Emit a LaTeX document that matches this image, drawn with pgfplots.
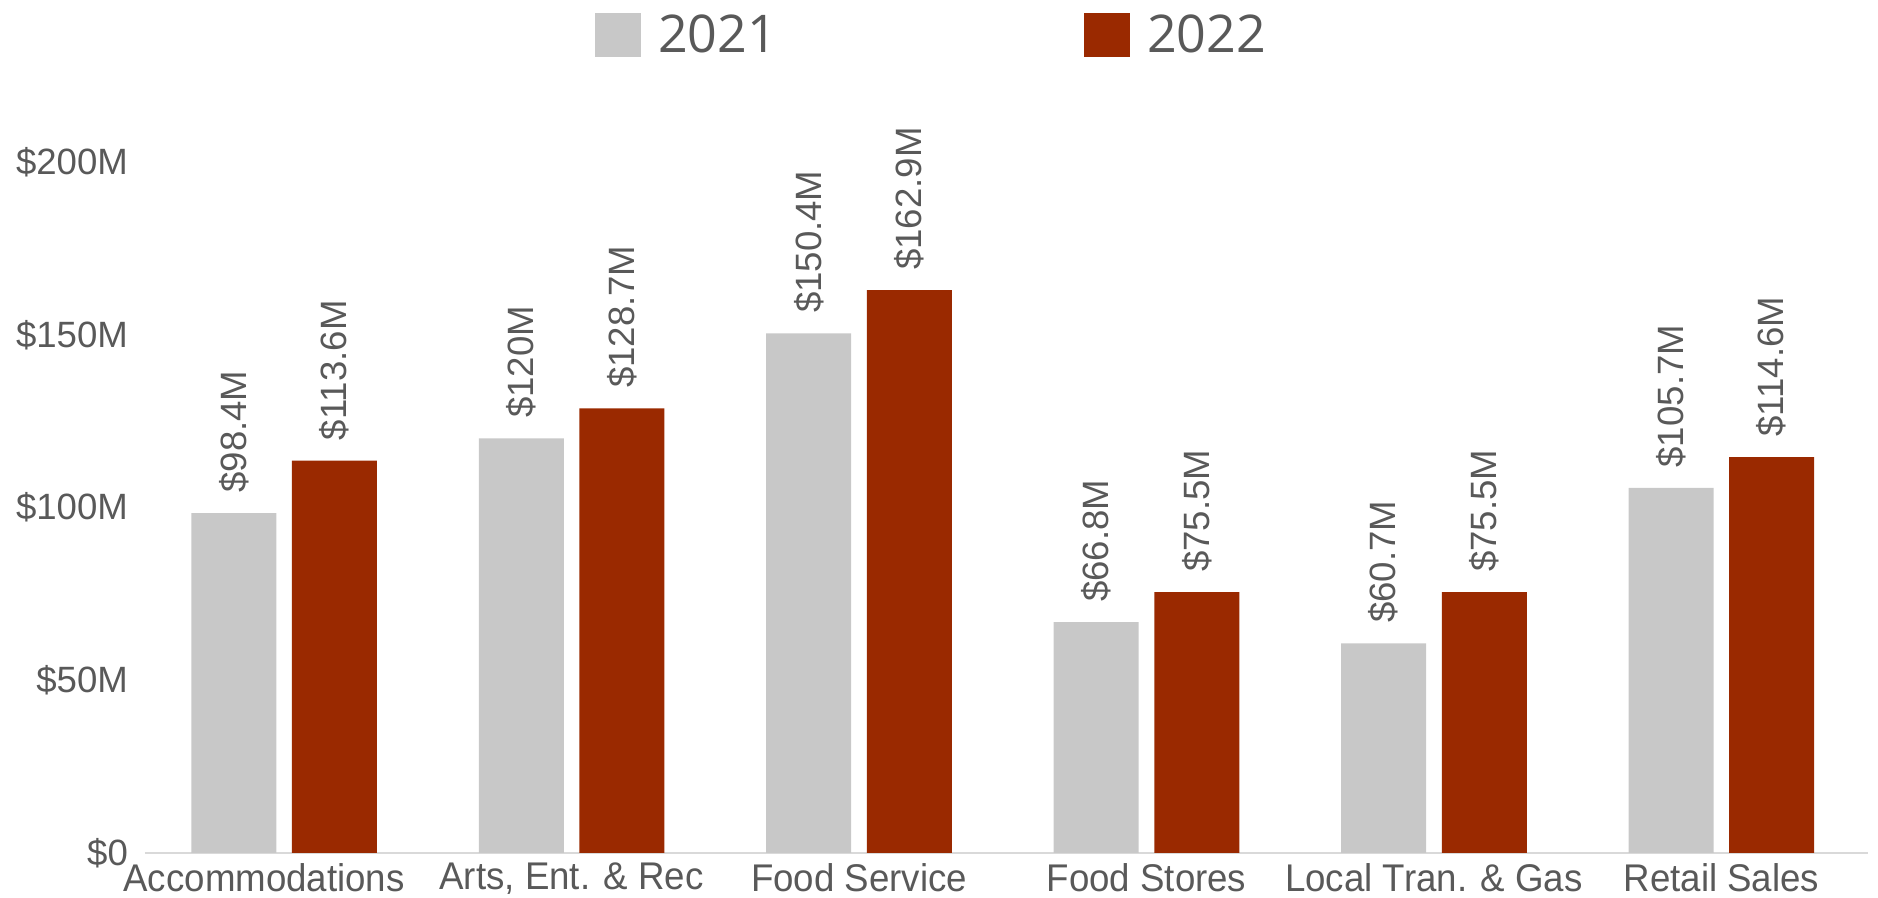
\documentclass[border=0pt]{standalone}
\usepackage{pgfplots}
\pgfplotsset{compat=1.18}
\usepackage{fontspec}
\setmainfont{Liberation Sans}
\newfontfamily\legfont{Open Sans}
\newfontfamily\catfont[FakeStretch=0.95]{Liberation Sans}
\definecolor{cgray}{RGB}{200,200,200}
\definecolor{cred}{RGB}{154,41,0}
\definecolor{ctext}{RGB}{89,89,89}
\definecolor{caxis}{RGB}{217,217,217}
\begin{document}
\begin{tikzpicture}
\begin{axis}[
  scale only axis, width=861.5pt, height=345.5pt,
  xmin=-0.484, xmax=5.51, ymin=0, ymax=200,
  axis x line*=bottom, axis y line*=left,
  x axis line style={draw=caxis, line width=1pt, -},
  y axis line style={draw=none},
  major tick length=0pt,
  xtick={0,...,5},
  xticklabels={Accommodations\hspace*{20pt}, {Arts, Ent. \& Rec}, Food Service, Food Stores, {Local Tran. \& Gas}, Retail Sales},
  ytick={0,50,100,150,200},
  yticklabels={\$0,\$50M,\$100M,\$150M,\$200M},
  tick label style={font=\fontsize{18.3}{20}\selectfont, text=ctext},
  xticklabel style={font=\catfont\fontsize{19.3}{20}\selectfont, yshift=-1.5pt},
  yticklabel style={xshift=-5pt},
  /pgf/number format/assume math mode=true,
  ybar=7.8pt, bar width=42.5pt,
  clip=false,
  nodes near coords, point meta=explicit symbolic,
  every node near coord/.append style={rotate=90, anchor=west, font=\fontsize{18.3}{20}\selectfont, text=ctext, inner xsep=10pt},
  legend columns=2,
  legend style={at={(0.261,1.1835)}, anchor=west, draw=none, fill=none, inner sep=0pt,
    font=\legfont\fontsize{26}{30}\selectfont, text=ctext,
    nodes={inner sep=0pt},
    /tikz/every odd column/.append style={column sep=8.5pt},
    /tikz/every even column/.append style={column sep=153.5pt}},
  legend image code/.code={\fill[#1] (0pt,-11pt) rectangle (23pt,11pt);},
]
\addplot[fill=cgray, draw=none] coordinates {(0,98.4)[\$98.4M] (1,120)[\$120M] (2,150.4)[\$150.4M] (3,66.8)[\$66.8M] (4,60.7)[\$60.7M] (5,105.7)[\$105.7M]};
\addplot[fill=cred, draw=none] coordinates {(0,113.6)[\$113.6M] (1,128.7)[\$128.7M] (2,162.9)[\$162.9M] (3,75.5)[\$75.5M] (4,75.5)[\$75.5M] (5,114.6)[\$114.6M]};
\legend{2021,2022}
\end{axis}
\pgfresetboundingbox
\path[use as bounding box] (-72.5pt,-22.5pt) rectangle (866.5pt,426.5pt);
\end{tikzpicture}
\end{document}
